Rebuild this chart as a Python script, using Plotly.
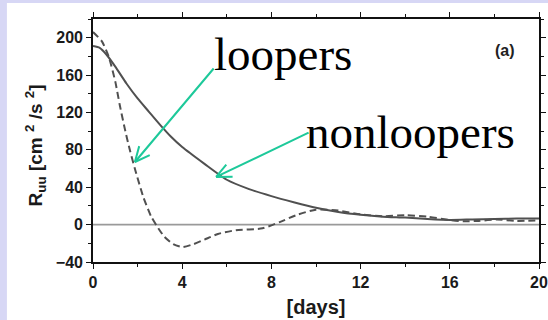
import math
import plotly.graph_objects as go

# Velocity autocorrelation R_uu versus time lag, for the two drifter groups
days_nonloopers = [0, 0.3, 0.6, 1, 1.5, 2, 2.5, 3, 3.5, 4, 5, 6, 7, 8, 9, 10,
                   11, 12, 13, 14, 15, 16, 17, 18, 19, 20]
r_nonloopers = [191, 189, 182, 169, 151, 135, 121, 107, 94, 83, 65, 48, 38,
                30.5, 24, 18, 13.5, 10.5, 8.5, 7.5, 6, 5, 5.5, 6, 6.5, 6.5]

days_loopers = [0, 0.4, 0.7, 1.0, 1.2, 1.45, 1.65, 1.9, 2.25, 2.6, 2.85, 3.2,
                3.6, 4.0, 4.5, 5, 5.6, 6.4, 7.6, 8.4, 9.1, 10, 11, 12, 13, 14,
                15, 16, 16.6, 17.3, 18.1, 19, 20]
r_loopers = [206, 196, 180, 153, 128, 100, 80, 58, 30, 9, -1, -13, -21, -24,
             -21, -16, -10, -6, -4, 3, 10, 16, 15, 11, 9, 10, 8.5, 5, 3.5, 4,
             5.5, 4, 4.5]

x_ticks = [0, 4, 8, 12, 16, 20]
y_ticks = [-40, 0, 40, 80, 120, 160, 200]

LAVENDER = "#D7D7F5"
CURVE = "#505050"
GREEN = "#1DC99A"

fig = go.Figure()

# zero reference line
fig.add_trace(go.Scatter(x=[x_ticks[0], x_ticks[-1]], y=[0, 0], mode="lines",
                         line=dict(color="#9a9a9a", width=1.8),
                         hoverinfo="skip", showlegend=False))

fig.add_trace(go.Scatter(x=days_nonloopers, y=r_nonloopers, mode="lines",
                         name="nonloopers",
                         line=dict(color=CURVE, width=2, shape="spline",
                                   smoothing=0.6),
                         showlegend=False))
fig.add_trace(go.Scatter(x=days_loopers, y=r_loopers, mode="lines",
                         name="loopers",
                         line=dict(color=CURVE, width=2, dash="7px,4px",
                                   shape="spline", smoothing=0.6),
                         showlegend=False))

axis_common = dict(showline=True, linecolor="#111", linewidth=1.6,
                   mirror="ticks", ticks="outside", ticklen=5, tickwidth=1.4,
                   tickcolor="#111", showgrid=False, zeroline=False,
                   automargin=False,
                   tickfont=dict(family="Liberation Sans", size=16,
                                 color="#1a1a1a", weight="bold"))

fig.update_xaxes(range=[0, 20], tickvals=x_ticks,
                 minor=dict(ticks="outside", ticklen=3, dtick=2,
                            tickcolor="#111", tickwidth=1.2),
                 title=dict(text="[days]", standoff=10,
                            font=dict(family="Liberation Sans", size=20,
                                      color="#1a1a1a", weight="bold")),
                 **axis_common)
fig.update_yaxes(range=[-40, 220], tickvals=y_ticks,
                 minor=dict(ticks="outside", ticklen=3, dtick=20,
                            tickcolor="#111", tickwidth=1.2),
                 **axis_common)

annotations = []

# y-axis title, placed as a rotated annotation
annotations.append(dict(text="R<sub>uu</sub> [cm <sup>2</sup> /s <sup>2</sup>]",
                        xref="paper", yref="paper", x=-0.130, y=0.48,
                        xanchor="center", yanchor="middle", textangle=-90,
                        showarrow=False,
                        font=dict(family="Liberation Sans", size=19,
                                  color="#1a1a1a", weight="bold")))

# curve labels
label_font = dict(family="Liberation Serif", size=47, color="#000")
annotations.append(dict(text="loopers", xref="paper", yref="paper",
                        x=0.2668, y=0.8556, xanchor="left", yanchor="middle",
                        showarrow=False, font=label_font))
annotations.append(dict(text="nonloopers", xref="paper", yref="paper",
                        x=0.473, y=0.5333, xanchor="left", yanchor="middle",
                        showarrow=False, font=label_font))
annotations.append(dict(text="(a)", xref="paper", yref="paper",
                        x=0.924, y=0.872, xanchor="center", yanchor="middle",
                        showarrow=False,
                        font=dict(family="Liberation Sans", size=16,
                                  color="#222", weight="bold")))


def open_arrow(tip_x, tip_y, tail_dx, tail_dy, barb=18, spread=25):
    """Green arrow with an open V head, tail given as a pixel offset."""
    items = [dict(x=tip_x, y=tip_y, xref="x", yref="y", ax=tail_dx,
                  ay=tail_dy, axref="pixel", ayref="pixel", text="",
                  showarrow=True, arrowhead=0, arrowwidth=2,
                  arrowcolor=GREEN, standoff=0)]
    ang = math.atan2(tail_dy, tail_dx)
    for s in (-spread, spread):
        a = ang + math.radians(s)
        items.append(dict(x=tip_x, y=tip_y, xref="x", yref="y",
                          ax=barb * math.cos(a), ay=barb * math.sin(a),
                          axref="pixel", ayref="pixel", text="",
                          showarrow=True, arrowhead=0, arrowwidth=2,
                          arrowcolor=GREEN, standoff=0))
    return items


annotations += open_arrow(1.88, 67, 80, -95)
annotations += open_arrow(5.52, 51, 94, -45)

# lavender frame strips at the left and top edges of the page
shapes = [
    dict(type="rect", xref="paper", yref="paper", x0=-0.25, x1=-0.193,
         y0=-0.3, y1=1.2, fillcolor=LAVENDER, line=dict(width=0),
         layer="above"),
    dict(type="rect", xref="paper", yref="paper", x0=-0.25, x1=1.05,
         y0=1.066, y1=1.2, fillcolor=LAVENDER, line=dict(width=0),
         layer="above"),
]

fig.update_layout(width=548, height=320,
                  margin=dict(l=93, r=9, t=19, b=58),
                  paper_bgcolor="white", plot_bgcolor="white",
                  annotations=annotations, shapes=shapes,
                  showlegend=False)

fig.write_html("out.html")
